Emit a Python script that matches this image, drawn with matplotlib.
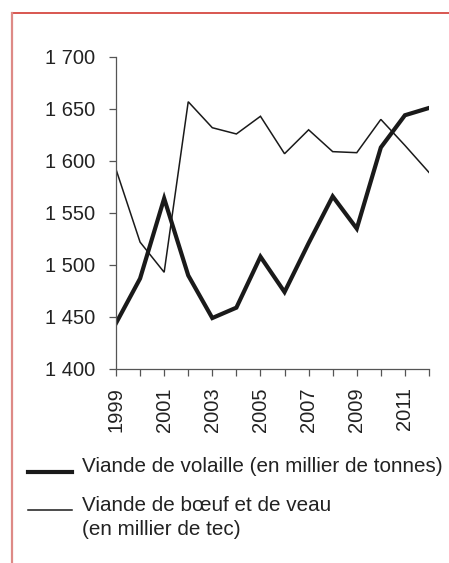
import matplotlib.pyplot as plt
from matplotlib.lines import Line2D

plt.rcParams["font.family"] = ["Liberation Sans", "DejaVu Sans"]

# Donnees
years = list(range(1999, 2013))
volaille = [1444, 1487, 1564, 1490, 1449, 1459, 1508, 1474, 1521, 1566, 1535, 1613, 1644, 1651]
boeuf = [1592, 1522, 1493, 1657, 1632, 1626, 1643, 1607, 1630, 1609, 1608, 1640, 1615, 1589]
yticks = [1400, 1450, 1500, 1550, 1600, 1650, 1700]
ytick_labels = ["1 400", "1 450", "1 500", "1 550", "1 600", "1 650", "1 700"]
label_volaille = "Viande de volaille (en millier de tonnes)"
label_boeuf = ["Viande de bœuf et de veau", "(en millier de tec)"]

W, H = 449, 563
fig = plt.figure(figsize=(W / 100, H / 100), dpi=100)

# cadre rouge (haut + gauche)
fig.add_artist(Line2D([12 / W, 1], [1 - 12.5 / H, 1 - 12.5 / H], color="#d23a32", lw=1.2))
fig.add_artist(Line2D([12 / W, 12 / W], [0, 1 - 12.5 / H], color="#de8a86", lw=1.6))

ax = fig.add_axes([116 / W, 1 - 369 / H, (429 - 116) / W, (369 - 57) / H])
ax.plot(years, volaille, color="#1a1a1a", lw=3.0, solid_joinstyle="miter")
ax.plot(years, boeuf, color="#1a1a1a", lw=1.1, solid_joinstyle="miter")

ax.set_xlim(1999, 2012)
ax.set_ylim(1400, 1700)
ax.set_yticks(yticks)
ax.set_yticklabels(ytick_labels, fontsize=14.5, color="#222222")
ax.set_xticks(years)
ax.set_xticklabels([str(y) if (y - 1999) % 2 == 0 else "" for y in years],
                   rotation=90, fontsize=14.5, color="#222222")

for s in ["top", "right"]:
    ax.spines[s].set_visible(False)
for s in ["left", "bottom"]:
    ax.spines[s].set_color("#555555")
    ax.spines[s].set_linewidth(0.9)
ax.tick_params(axis="both", direction="out", length=5, width=0.9, color="#555555")
ax.tick_params(axis="y", pad=10)
ax.tick_params(axis="x", pad=8)
ax.patch.set_visible(False)

# legende
fig.add_artist(Line2D([28 / W, 72 / W], [1 - 471.5 / H, 1 - 471.5 / H], color="#1a1a1a", lw=3.0))
fig.add_artist(Line2D([28 / W, 72 / W], [1 - 509.5 / H, 1 - 509.5 / H], color="#1a1a1a", lw=1.1))
fig.text(82 / W, 1 - 472.5 / H, label_volaille, fontsize=14.9, color="#222222", va="baseline")
fig.text(82 / W, 1 - 511 / H, label_boeuf[0], fontsize=14.9, color="#222222", va="baseline")
fig.text(82 / W, 1 - 535 / H, label_boeuf[1], fontsize=14.9, color="#222222", va="baseline")

fig.savefig("out.png", dpi=100)
